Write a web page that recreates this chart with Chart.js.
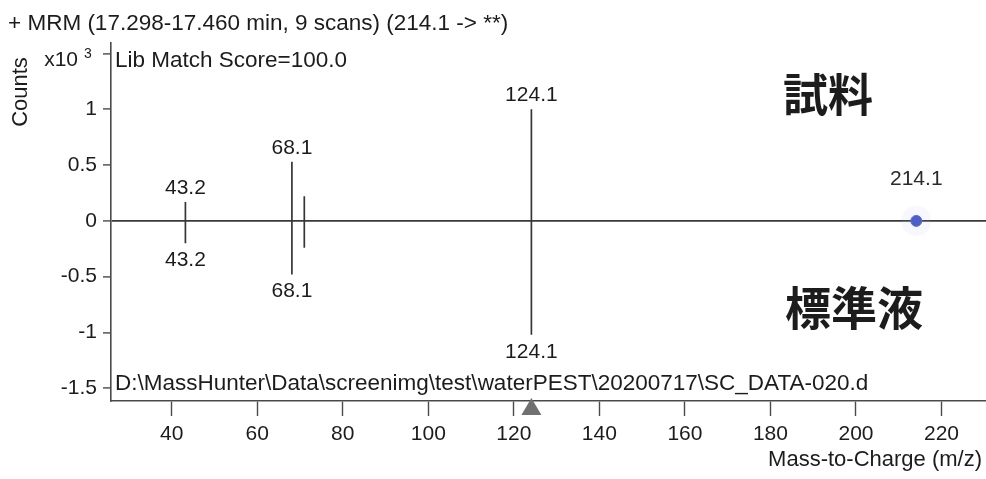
<!DOCTYPE html>
<html>
<head>
<meta charset="utf-8">
<script src="https://cdn.jsdelivr.net/npm/chart.js@4.4.1/dist/chart.umd.min.js"></script>
<style>
  html, body { margin: 0; padding: 0; background: #ffffff; }
  #wrap { width: 986px; height: 479px; }
</style>
</head>
<body>
<div id="wrap"><canvas id="spectrum" width="986" height="479"></canvas></div>
<script>
// Product-ion spectrum, sample (upper) mirrored against the library standard (lower).
// Abundances are in units of 10^3 counts.
const peakMz         = [43.2, 68.1, 71.0, 124.1];
const sampleCounts   = [0.17, 0.53, 0.22, 1.00];
const standardCounts = [-0.20, -0.48, -0.24, -1.02];
const sampleLabels   = ['43.2', '68.1', '', '124.1'];
const standardLabels = ['43.2', '68.1', '', '124.1'];

const precursorMz     = [214.1];
const precursorCounts = [0];
const precursorLabels = ['214.1'];

const basePeakMz = 124.1;

const xTickValues = [40, 60, 80, 100, 120, 140, 160, 180, 200, 220];
const yTickValues = [-1.5, -1, -0.5, 0, 0.5, 1, 1.5];
const yTickLabels = ['-1.5', '-1', '-0.5', '0', '0.5', '1', ''];

const X_MIN = 25.8, X_MAX = 230.4;
const Y_MIN = -1.615, Y_MAX = 1.595;

const FONT = "'Liberation Sans', Arial, sans-serif";
const CJK = "'Noto Sans CJK JP', 'Noto Sans CJK SC', sans-serif";
const INK = '#1c1c1c';
const STICK = '#363636';
const AXIS = '#4a4a4a';

// Each stick is a vertical segment from the baseline; nulls break the line between sticks.
function sticks(mz, counts) {
  const pts = [];
  mz.forEach((m, i) => {
    pts.push({ x: m, y: 0 }, { x: m, y: counts[i] }, { x: m, y: null });
  });
  return pts;
}

const annotations = {
  id: 'annotations',
  afterDatasetsDraw(chart) {
    const { ctx, scales: { x, y } } = chart;
    ctx.save();
    ctx.fillStyle = INK;
    ctx.font = `21px ${FONT}`;
    ctx.textAlign = 'center';
    ctx.textBaseline = 'alphabetic';
    peakMz.forEach((m, i) => {
      const px = x.getPixelForValue(m);
      if (sampleLabels[i]) {
        ctx.fillText(sampleLabels[i], px, y.getPixelForValue(sampleCounts[i]) - 8);
      }
      if (standardLabels[i]) {
        ctx.fillText(standardLabels[i], px, y.getPixelForValue(standardCounts[i]) + 23);
      }
    });
    precursorMz.forEach((m, i) => {
      ctx.fillStyle = '#2a2a2a';
      ctx.fillText(precursorLabels[i], x.getPixelForValue(m), y.getPixelForValue(precursorCounts[i]) - 36);
    });
    ctx.restore();
  },
  afterDraw(chart) {
    const { ctx, scales: { x, y } } = chart;
    ctx.save();
    ctx.fillStyle = INK;
    ctx.textBaseline = 'alphabetic';

    // header
    ctx.textAlign = 'left';
    ctx.font = `22.5px ${FONT}`;
    ctx.fillText('+ MRM (17.298-17.460 min, 9 scans) (214.1 -> **)', 8, 30);
    ctx.fillText('Lib Match Score=100.0', 115, 67);
    ctx.fillText('D:\\MassHunter\\Data\\screenimg\\test\\waterPEST\\20200717\\SC_DATA-020.d', 115, 390);

    // y-axis multiplier, sitting on the top tick
    const topTick = y.getPixelForValue(yTickValues[yTickValues.length - 1]);
    ctx.textAlign = 'right';
    ctx.font = `21px ${FONT}`;
    ctx.fillText('x10', 78, topTick + 12);
    ctx.textAlign = 'left';
    ctx.font = `14px ${FONT}`;
    ctx.fillText('3', 84, topTick + 4);

    // y-axis title
    ctx.save();
    ctx.translate(27, 92);
    ctx.rotate(-Math.PI / 2);
    ctx.textAlign = 'center';
    ctx.font = `22px ${FONT}`;
    ctx.fillText('Counts', 0, 0);
    ctx.restore();

    // x-axis title
    ctx.textAlign = 'right';
    ctx.font = `22px ${FONT}`;
    ctx.fillText('Mass-to-Charge (m/z)', 982, 466);

    // panel captions
    ctx.textAlign = 'left';
    ctx.textBaseline = 'middle';
    ctx.font = `bold 45px ${CJK}`;
    ctx.fillText('試料', 783, 95);
    ctx.font = `bold 46px ${CJK}`;
    ctx.fillText('標準液', 785, 308);

    // base-peak marker under the x axis
    const bx = x.getPixelForValue(basePeakMz);
    const by = chart.chartArea.bottom;
    ctx.fillStyle = '#707070';
    ctx.beginPath();
    ctx.moveTo(bx, by - 3);
    ctx.lineTo(bx + 10, by + 14);
    ctx.lineTo(bx - 10, by + 14);
    ctx.closePath();
    ctx.fill();
    ctx.restore();
  }
};

new Chart(document.getElementById('spectrum'), {
  type: 'line',
  data: {
    datasets: [
      {
        label: 'sample',
        data: sticks(peakMz, sampleCounts),
        borderColor: STICK,
        borderWidth: 1.7,
        pointRadius: 0,
        spanGaps: false,
        tension: 0
      },
      {
        label: 'standard',
        data: sticks(peakMz, standardCounts),
        borderColor: STICK,
        borderWidth: 1.7,
        pointRadius: 0,
        spanGaps: false,
        tension: 0
      },
      {
        label: 'precursor halo',
        data: precursorMz.map((m, i) => ({ x: m, y: precursorCounts[i] })),
        showLine: false,
        pointRadius: 15,
        pointBackgroundColor: 'rgba(160, 180, 240, 0.09)',
        pointBorderWidth: 0
      },
      {
        label: 'precursor',
        data: precursorMz.map((m, i) => ({ x: m, y: precursorCounts[i] })),
        showLine: false,
        pointRadius: 5.5,
        pointBackgroundColor: '#4656c4',
        pointBorderColor: '#5b68c8',
        pointBorderWidth: 1
      }
    ]
  },
  options: {
    responsive: false,
    animation: false,
    devicePixelRatio: 1,
    layout: { autoPadding: false, padding: { top: 43, right: 0, bottom: 0, left: 0 } },
    plugins: { legend: { display: false }, tooltip: { enabled: false }, title: { display: false } },
    scales: {
      x: {
        type: 'linear',
        position: 'bottom',
        min: X_MIN,
        max: X_MAX,
        afterBuildTicks: s => { s.ticks = xTickValues.map(v => ({ value: v })); },
        afterFit: s => { s.height = 78; s.paddingLeft = 0; s.paddingRight = 0; },
        grid: { drawOnChartArea: false, drawTicks: true, tickLength: 15, tickColor: AXIS, tickWidth: 1.4 },
        border: { display: true, color: AXIS, width: 1.6 },
        ticks: { color: INK, font: { family: FONT, size: 21 }, padding: 6, maxRotation: 0, autoSkip: false }
      },
      y: {
        type: 'linear',
        min: Y_MIN,
        max: Y_MAX,
        afterBuildTicks: s => { s.ticks = yTickValues.map(v => ({ value: v })); },
        afterFit: s => { s.width = 111; s.paddingTop = 0; s.paddingBottom = 0; },
        grid: {
          drawOnChartArea: true,
          drawTicks: true,
          tickLength: 8,
          tickColor: AXIS,
          tickWidth: 1.4,
          color: c => (c.tick && c.tick.value === 0 ? '#3a3a3a' : 'rgba(0,0,0,0)'),
          lineWidth: 1.8
        },
        border: { display: true, color: AXIS, width: 1.6 },
        ticks: {
          color: INK,
          font: { family: FONT, size: 21 },
          padding: 6,
          autoSkip: false,
          callback: v => yTickLabels[yTickValues.indexOf(v)]
        }
      }
    }
  },
  plugins: [annotations]
});
</script>
</body>
</html>
